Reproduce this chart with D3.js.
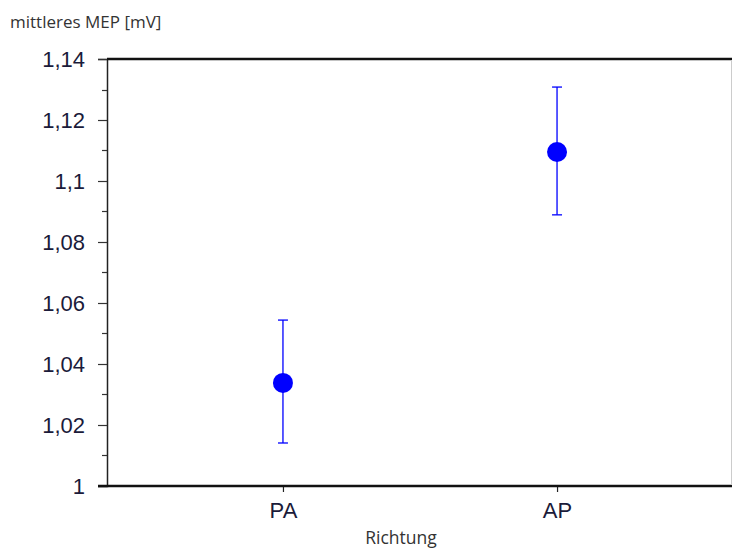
<!DOCTYPE html>
<html>
<head>
<meta charset="utf-8">
<script src="https://cdn.jsdelivr.net/npm/d3@7"></script>
<style>
  body { margin: 0; background: #fff; }
  svg { display: block; }
</style>
</head>
<body>
<svg id="chart" width="732" height="557"></svg>
<script>
'use strict';

let categories = ['PA', 'AP'];
let means = [1.0338, 1.1095];
let upper = [1.0544, 1.1308];
let lower = [1.0141, 1.0889];
let majorTicks = [1, 1.02, 1.04, 1.06, 1.08, 1.1, 1.12, 1.14];
let minorTicks = [1.01, 1.03, 1.05, 1.07, 1.09, 1.11, 1.13];

let svg = d3.select('#chart');
let plotLeft = 107;
let plotRight = 733;
let plotTop = 59;
let plotBottom = 486;

let y = d3.scaleLinear().domain([1, 1.14]).range([plotBottom, plotTop]);
let x = d3.scalePoint().domain(categories).range([plotLeft, plotRight]).padding(0.642);

function fmt(v) {
  return String(+v.toFixed(2)).replace('.', ',');
}

// y axis
let yAxis = d3.axisLeft(y)
  .tickValues(majorTicks)
  .tickFormat(fmt)
  .tickSize(9)
  .tickPadding(13);

let gy = svg.append('g')
  .attr('transform', 'translate(' + plotLeft + ',0)')
  .call(yAxis);
gy.select('.domain').attr('stroke', '#222').attr('stroke-width', 1.5);
gy.selectAll('.tick line').attr('stroke', '#333').attr('stroke-width', 1.2);
gy.selectAll('.tick text')
  .attr('fill', '#1b1b3a')
  .attr('font-family', 'Liberation Sans, Arial, sans-serif')
  .attr('font-size', '22px');

svg.append('g')
  .selectAll('line')
  .data(minorTicks)
  .join('line')
  .attr('x1', plotLeft - 5)
  .attr('x2', plotLeft)
  .attr('y1', function(d) { return Math.round(y(d)) + 0.5; })
  .attr('y2', function(d) { return Math.round(y(d)) + 0.5; })
  .attr('stroke', '#333')
  .attr('stroke-width', 1.2);

// x axis
let xAxis = d3.axisBottom(x).tickSize(6).tickPadding(10);
let gx = svg.append('g')
  .attr('transform', 'translate(0,' + plotBottom + ')')
  .call(xAxis);
gx.select('.domain').remove();
gx.selectAll('.tick line').attr('stroke', '#222').attr('stroke-width', 1.2);
gx.selectAll('.tick text')
  .attr('fill', '#1b1b3a')
  .attr('font-family', 'Liberation Sans, Arial, sans-serif')
  .attr('font-size', '22px');

// frame lines
svg.append('line')
  .attr('x1', plotLeft - 9).attr('x2', 732)
  .attr('y1', plotBottom).attr('y2', plotBottom)
  .attr('stroke', '#111').attr('stroke-width', 2.5);
svg.append('line')
  .attr('x1', plotLeft).attr('x2', 732)
  .attr('y1', plotTop).attr('y2', plotTop)
  .attr('stroke', '#111').attr('stroke-width', 2.5);
svg.append('line')
  .attr('x1', 731.5).attr('x2', 731.5)
  .attr('y1', plotTop + 1).attr('y2', plotBottom - 1)
  .attr('stroke', '#ccc').attr('stroke-width', 1);

// error bars
let bars = svg.append('g')
  .selectAll('g')
  .data(categories)
  .join('g');

bars.append('line')
  .attr('x1', function(d) { return x(d); })
  .attr('x2', function(d) { return x(d); })
  .attr('y1', function(d, i) { return y(upper[i]); })
  .attr('y2', function(d, i) { return y(lower[i]); })
  .attr('stroke', '#0000ff')
  .attr('stroke-width', 1.3);

bars.append('line')
  .attr('x1', function(d) { return x(d) - 5; })
  .attr('x2', function(d) { return x(d) + 5; })
  .attr('y1', function(d, i) { return y(upper[i]); })
  .attr('y2', function(d, i) { return y(upper[i]); })
  .attr('stroke', '#0000ff')
  .attr('stroke-width', 1.3);

bars.append('line')
  .attr('x1', function(d) { return x(d) - 5; })
  .attr('x2', function(d) { return x(d) + 5; })
  .attr('y1', function(d, i) { return y(lower[i]); })
  .attr('y2', function(d, i) { return y(lower[i]); })
  .attr('stroke', '#0000ff')
  .attr('stroke-width', 1.3);

bars.append('circle')
  .attr('cx', function(d) { return x(d); })
  .attr('cy', function(d, i) { return y(means[i]); })
  .attr('r', 10)
  .attr('fill', '#0000ff');

// titles
svg.append('text')
  .attr('x', 10)
  .attr('y', 28)
  .attr('fill', '#333')
  .attr('font-family', 'Open Sans, Noto Sans, sans-serif')
  .attr('font-size', '17px')
  .text('mittleres MEP [mV]');

svg.append('text')
  .attr('x', 401)
  .attr('y', 544)
  .attr('text-anchor', 'middle')
  .attr('fill', '#333')
  .attr('font-family', 'Open Sans, Noto Sans, sans-serif')
  .attr('font-size', '17.5px')
  .text('Richtung');
</script>
</body>
</html>
